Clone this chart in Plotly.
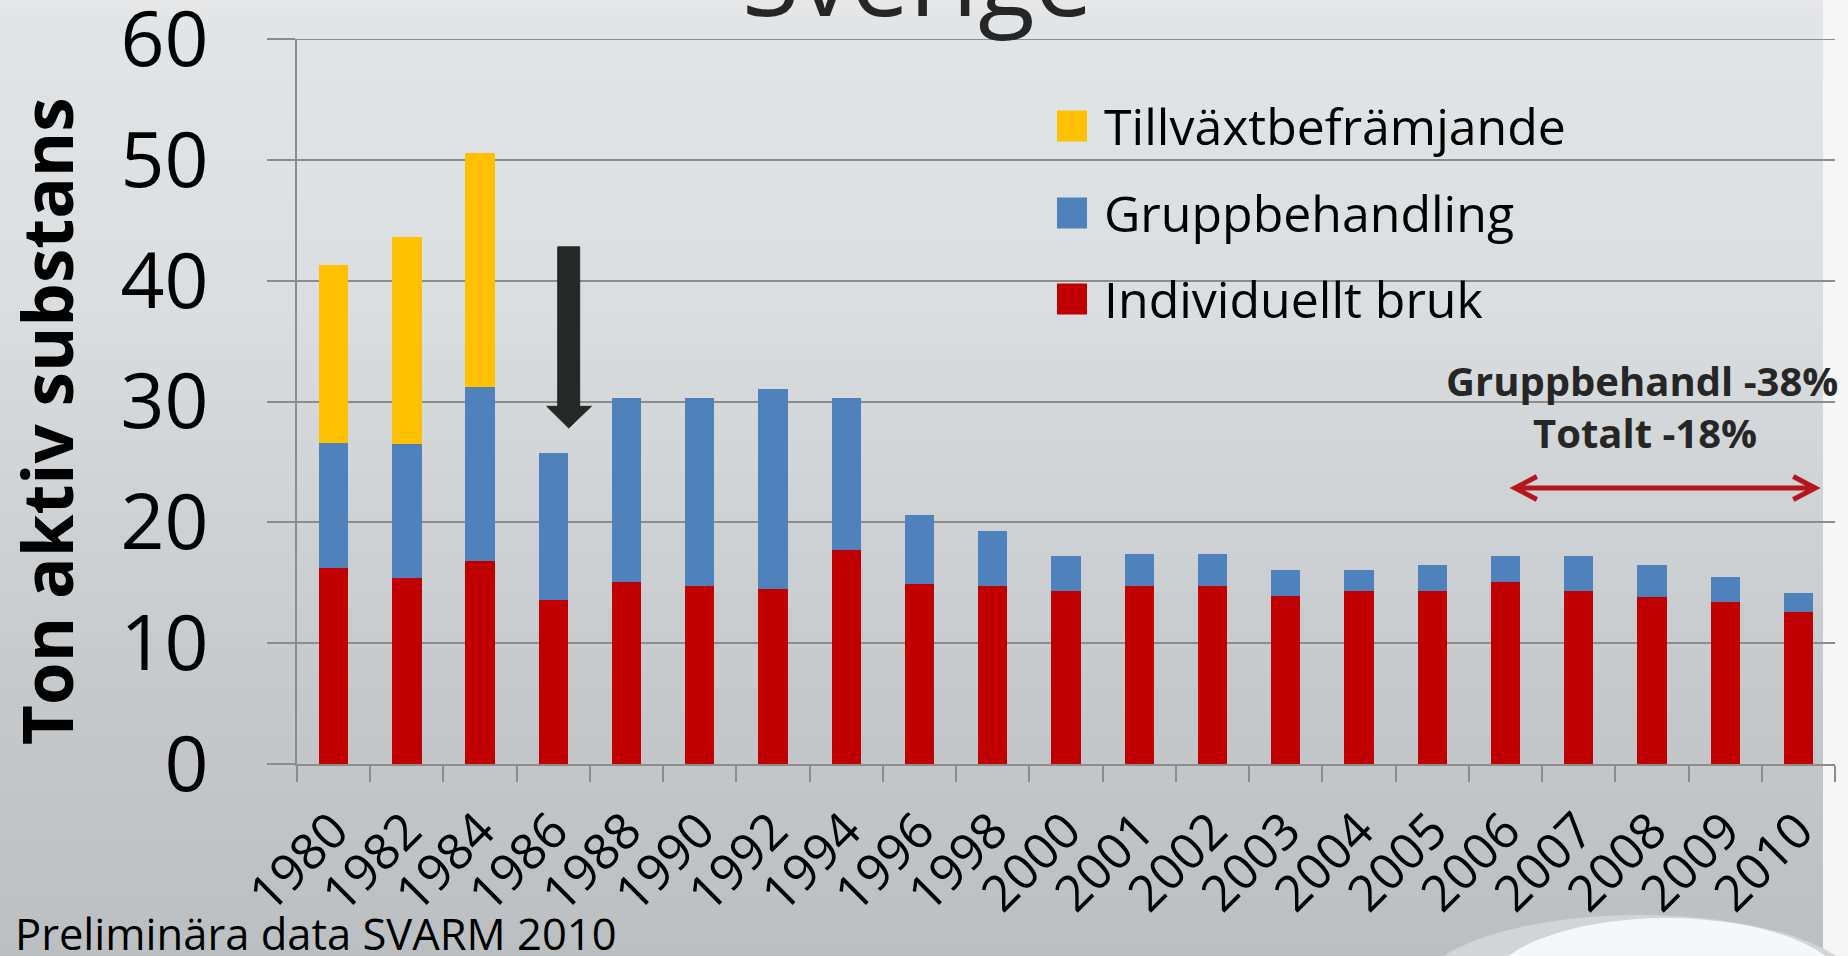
import plotly.graph_objects as go

# ---------------- data ----------------
years = ["1980", "1982", "1984", "1986", "1988", "1990", "1992", "1994", "1996", "1998",
         "2000", "2001", "2002", "2003", "2004", "2005", "2006", "2007", "2008", "2009", "2010"]
individuellt = [16.2, 15.4, 16.8, 13.6, 15.1, 14.7, 14.5, 17.7, 14.9, 14.7,
                14.35, 14.7, 14.7, 13.9, 14.35, 14.35, 15.1, 14.35, 13.8, 13.4, 12.6]
gruppbehandling = [10.4, 11.1, 14.4, 12.1, 15.2, 15.6, 16.5, 12.6, 5.7, 4.6,
                   2.85, 2.7, 2.7, 2.15, 1.7, 2.1, 2.1, 2.85, 2.65, 2.1, 1.55]
tillvaxt = [14.7, 17.1, 19.4, None, None, None, None, None, None, None,
            None, None, None, None, None, None, None, None, None, None, None]
series_names = ["Individuellt bruk", "Gruppbehandling", "Tillväxtbefrämjande"]
series_colors = ["#C00000", "#4F81BD", "#FFC000"]

# ---------------- geometry helpers (figure pixels -> paper) ----------------
W, H = 1848, 956
L, R, T, B = 297, 13, 39, 192
PW, PH = W - L - R, H - T - B


def fx(p):
    return (p - L) / PW


def fy(p):
    return (H - B - p) / PH


FONT = "Open Sans"
DARK = "#262626"
GRID = "#8c8c8c"

fig = go.Figure()
for name, vals, col in zip(series_names, [individuellt, gruppbehandling, tillvaxt], series_colors):
    fig.add_trace(go.Bar(x=years, y=vals, name=name, marker=dict(color=col, line=dict(width=0)),
                         showlegend=False))

shapes = []

# background gradient (slide)
stops = [(0, (231, 232, 233)), (18, (226, 229, 232)), (300, (219, 222, 224)),
         (500, (208, 211, 214)), (700, (198, 201, 204)), (956, (188, 191, 194))]


def col_at(y):
    for (y0, c0), (y1, c1) in zip(stops[:-1], stops[1:]):
        if y0 <= y <= y1:
            t = (y - y0) / (y1 - y0) if y1 > y0 else 0
            return "rgb(%d,%d,%d)" % tuple(round(a + (b - a) * t) for a, b in zip(c0, c1))
    return "rgb(%d,%d,%d)" % stops[-1][1]


step = 8
for yy in range(0, H, step):
    shapes.append(dict(type="rect", xref="paper", yref="paper", layer="below",
                       x0=fx(0), x1=fx(W), y0=fy(yy), y1=fy(yy + step + 1),
                       fillcolor=col_at(yy + step / 2), line=dict(width=0)))
# white strip on the right
shapes.append(dict(type="rect", xref="paper", yref="paper", layer="below",
                   x0=fx(1823), x1=fx(W), y0=fy(0), y1=fy(H),
                   fillcolor="#f6f6f6", line=dict(width=0)))
# swoosh bottom right
shapes.append(dict(type="circle", xref="paper", yref="paper", layer="below",
                   x0=fx(1420), x1=fx(1860), y0=fy(915), y1=fy(1065),
                   fillcolor="#d2d4d7", line=dict(width=0)))
shapes.append(dict(type="circle", xref="paper", yref="paper", layer="below",
                   x0=fx(1487), x1=fx(1847), y0=fy(918), y1=fy(1062),
                   fillcolor="#f6f7f8", line=dict(width=0)))

# top gridline at 60 (plotly skips gridlines at the range edge)
shapes.append(dict(type="line", xref="paper", yref="y", layer="below",
                   x0=fx(L - 28), x1=1, y0=60, y1=60, line=dict(color=GRID, width=2)))

# black down arrow at 1986 (category index coordinates)
shapes.append(dict(type="path", xref="x", yref="y", layer="above",
                   path="M 3.06 42.8 L 3.36 42.8 L 3.36 29.6 L 3.52 29.6 L 3.21 27.8 "
                        "L 2.91 29.6 L 3.06 29.6 Z",
                   fillcolor="#262727", line=dict(color="#262727", width=1)))

# red double arrow 2006-2010
RED = "#B5161B"
ya = 22.84
xl, xr = 16.13, 20.23
shapes.append(dict(type="line", xref="x", yref="y", x0=xl + 0.03, x1=xr - 0.03, y0=ya, y1=ya,
                   line=dict(color=RED, width=5)))
shapes.append(dict(type="path", xref="x", yref="y",
                   path=f"M {xl + 0.30} {ya + 0.95} L {xl} {ya} L {xl + 0.30} {ya - 0.95}",
                   line=dict(color=RED, width=5)))
shapes.append(dict(type="path", xref="x", yref="y",
                   path=f"M {xr - 0.30} {ya + 0.95} L {xr} {ya} L {xr - 0.30} {ya - 0.95}",
                   line=dict(color=RED, width=5)))

# manual legend squares (top entry = last series)
leg_y = [126, 213, 299]
for i, (name, col) in enumerate(zip(series_names[::-1], series_colors[::-1])):
    shapes.append(dict(type="rect", xref="paper", yref="paper",
                       x0=fx(1057), x1=fx(1087), y0=fy(leg_y[i] - 15.5), y1=fy(leg_y[i] + 15.5),
                       fillcolor=col, line=dict(width=0)))

annotations = []
for i, name in enumerate(series_names[::-1]):
    annotations.append(dict(text=name, xref="paper", yref="paper", x=fx(1102), y=fy(leg_y[i]),
                            xanchor="left", yanchor="middle", showarrow=False,
                            font=dict(family=FONT, size=50, color="black")))

annotations += [
    dict(text="Sverige", xref="paper", yref="paper", x=fx(917), y=fy(-25),
         xanchor="center", yanchor="middle", showarrow=False,
         font=dict(family=FONT, size=104, color=DARK)),
    dict(text="<b>Ton aktiv substans</b>", xref="paper", yref="paper", x=fx(46), y=fy(422),
         xanchor="center", yanchor="middle", textangle=-90, showarrow=False,
         font=dict(family=FONT, size=69, color="black")),
    dict(text="<b>Gruppbehandl -38%</b>", xref="paper", yref="paper", x=fx(1840), y=fy(380),
         xanchor="right", yanchor="middle", showarrow=False,
         font=dict(family=FONT, size=40, color=DARK)),
    dict(text="<b>Totalt -18%</b>", xref="paper", yref="paper", x=fx(1645), y=fy(433),
         xanchor="center", yanchor="middle", showarrow=False,
         font=dict(family=FONT, size=40, color=DARK)),
    dict(text="Preliminära data SVARM 2010", xref="paper", yref="paper", x=fx(13), y=fy(933),
         xanchor="left", yanchor="middle", showarrow=False,
         font=dict(family=FONT, size=43.5, color="black")),
]

fig.update_layout(
    width=W, height=H,
    barmode="stack", bargap=0.6,
    margin=dict(l=L, r=R, t=T, b=B, autoexpand=False),
    paper_bgcolor="#c8cbce", plot_bgcolor="rgba(0,0,0,0)",
    shapes=shapes, annotations=annotations,
    showlegend=False,
    font=dict(family=FONT, color="black"),
    xaxis=dict(type="category", categoryorder="array", categoryarray=years,
               tickangle=-45, tickfont=dict(family=FONT, size=50, color="black"),
               ticks="outside", ticklen=16, tickwidth=2, tickcolor=GRID, tickson="boundaries",
               showline=True, linecolor=GRID, linewidth=2, showgrid=False,
               ticklabelstandoff=15),
    yaxis=dict(range=[0, 60], dtick=10, tickfont=dict(family=FONT, size=77, color="black"),
               ticks="outside", ticklen=28, tickwidth=2, tickcolor=GRID,
               showline=True, linecolor=GRID, linewidth=2,
               showgrid=True, gridcolor=GRID, gridwidth=2, zeroline=False,
               ticklabelstandoff=43, ticklabeloverflow="allow"),
)

fig.write_html("out.html", config={"displayModeBar": False},
               post_script="document.body.style.margin='0';document.body.style.overflow='hidden';")
